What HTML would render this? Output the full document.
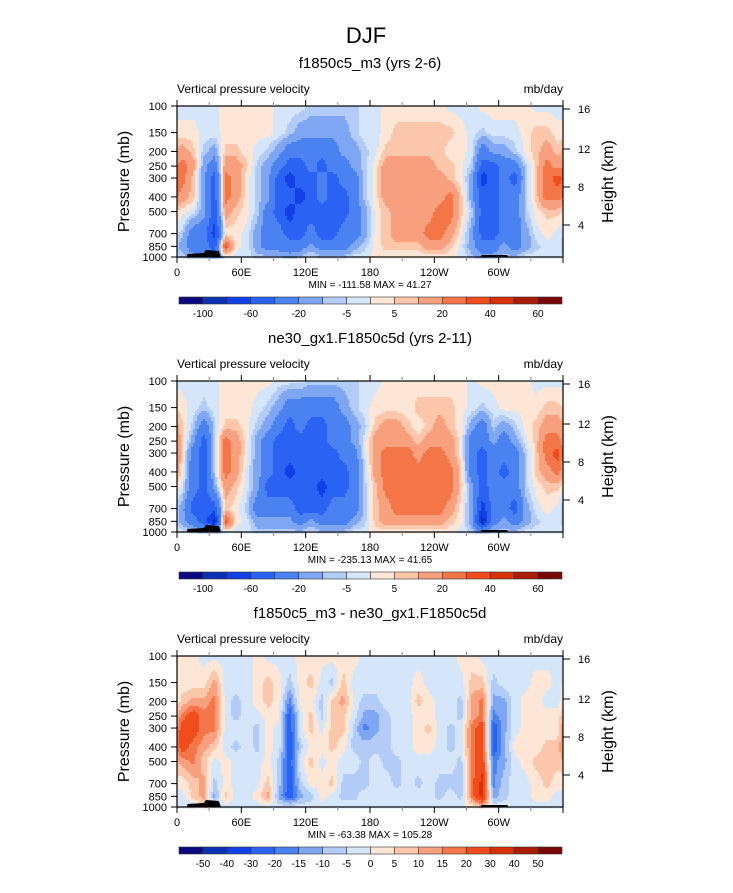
<!DOCTYPE html>
<html><head><meta charset="utf-8">
<style>
html,body{margin:0;padding:0;background:#fff;}
svg text{font-family:"Liberation Sans",Helvetica,Arial,sans-serif;fill:#000;}
</style></head>
<body>
<svg id="fig" width="733" height="888" viewBox="0 0 733 888" xmlns="http://www.w3.org/2000/svg">
<text x="366" y="43" font-size="22" text-anchor="middle">DJF</text>
</svg>
<script>
// ---- data ----
const pressureLevels = [100,150,200,250,300,400,500,700,850,1000];
const lonCenters = [5,15,25,35,45,55,65,75,85,95,105,115,125,135,145,155,165,175,185,195,205,215,225,235,245,255,265,275,285,295,305,315,325,335,345,355];
const lonTickLabels = ["0","60E","120E","180","120W","60W"];
const lonTickValues = [0,60,120,180,240,300];
const pTickLabels = ["100","150","200","250","300","400","500","700","850","1000"];
const hTickLabels = ["4","8","12","16"];
const levelsFull = [-100,-80,-60,-40,-20,-10,-5,0,5,10,20,30,40,50,60];
const levelsFullLabels = ["-100","-60","-20","-5","5","20","40","60"];
const levelsDiff = [-50,-40,-30,-20,-15,-10,-5,0,5,10,15,20,30,40,50];
const levelsDiffLabels = ["-50","-40","-30","-20","-15","-10","-5","0","5","10","15","20","30","40","50"];
const palette = ["#0a0a7e","#0c2fb4","#1040e6","#2a62f4","#4a82f2","#7ea6f2","#b3cbf7","#d5e6fb","#fde6d6","#fcc6aa","#f8a07e","#f47548","#f04c1c","#d83008","#aa1c06","#780806"];

const omega1 = [
[-2,-2,-2,-2,2,2,2,2,2,-2,-2,-2,-7,-7,-7,-7,-7,-2,-2,2,2,2,2,2,2,-2,-2,-2,2,2,2,2,2,-2,-2,-2],
[2,2,-2,-2,2,2,2,2,2,-2,-7,-15,-15,-15,-15,-15,-7,-2,-2,2,7,7,7,7,7,7,2,-2,-7,-2,-2,-2,2,7,7,2],
[15,7,-7,-15,7,7,2,-2,-7,-15,-30,-30,-30,-30,-30,-15,-15,-7,-2,7,7,7,7,7,7,2,2,-2,-30,-15,-15,-7,2,7,15,7],
[25,15,-15,-30,15,15,7,-7,-15,-30,-50,-50,-30,-50,-30,-30,-15,-7,2,15,15,15,15,15,7,7,2,-7,-50,-50,-30,-30,-7,7,25,15],
[25,7,-15,-50,25,15,2,-7,-15,-50,-70,-50,-50,-30,-50,-30,-30,-7,2,15,15,15,15,15,15,7,2,-15,-70,-50,-30,-50,-7,7,25,35],
[15,7,-15,-50,25,15,2,-7,-15,-50,-50,-70,-50,-30,-50,-50,-30,-7,2,15,15,15,15,15,15,25,7,-15,-50,-50,-30,-30,-7,7,25,25],
[2,-2,-15,-50,15,7,2,-7,-30,-50,-70,-50,-50,-50,-50,-50,-30,-15,2,7,15,15,15,15,25,25,7,-7,-50,-50,-30,-30,-7,2,7,7],
[-7,-30,-30,-70,2,2,-2,-15,-30,-30,-50,-50,-30,-50,-50,-30,-30,-15,2,7,15,15,15,25,25,15,2,-15,-50,-50,-30,-30,-15,-2,2,-2],
[-15,-30,-30,-50,35,2,-2,-15,-30,-30,-30,-30,-15,-30,-30,-30,-15,-7,2,7,7,7,7,15,15,7,-2,-15,-30,-30,-15,-30,-15,-7,-2,-2],
[-7,-15,-15,-30,-2,-2,-2,-7,-7,-7,-15,-7,-2,-7,-7,-7,-2,-2,2,2,2,2,2,2,2,2,-2,-7,-15,-15,-7,-7,-2,-2,-2,-2]];

const omega2 = [
[-2,-2,-2,-2,2,2,2,2,2,-2,-2,-2,-7,-7,-7,-7,-7,-2,-2,2,2,2,2,2,2,2,2,-2,2,2,2,2,2,-2,-2,-2],
[2,-2,-7,-2,2,2,2,-2,-7,-15,-30,-30,-30,-30,-30,-15,-7,-2,2,2,2,2,7,7,7,7,2,-2,-7,-2,2,2,2,2,7,7],
[7,-7,-30,-7,7,7,2,-7,-15,-30,-50,-30,-50,-50,-30,-30,-15,-7,7,15,15,7,2,7,15,7,2,-15,-30,-7,-15,-7,2,7,15,15],
[7,-15,-50,-7,25,15,2,-15,-30,-50,-50,-50,-50,-50,-30,-30,-15,-2,15,15,15,15,7,15,15,15,2,-30,-30,-15,-30,-15,-2,7,25,25],
[7,-30,-50,-7,25,15,2,-15,-30,-50,-50,-50,-50,-50,-50,-30,-30,-2,15,25,25,25,15,25,25,15,2,-30,-50,-30,-30,-30,-7,7,25,35],
[2,-30,-50,-7,25,15,-2,-15,-30,-50,-70,-50,-50,-50,-50,-50,-30,-7,15,25,25,25,25,25,25,25,7,-30,-50,-30,-50,-30,-7,7,15,25],
[-2,-30,-50,-15,15,7,-2,-15,-50,-50,-50,-50,-50,-70,-50,-50,-30,-7,7,25,25,25,25,25,25,25,7,-15,-50,-30,-30,-30,-7,2,7,7],
[-15,-50,-50,-50,7,2,-7,-30,-30,-30,-30,-50,-50,-50,-30,-30,-30,-7,7,15,25,25,25,25,25,15,2,-15,-70,-30,-30,-50,-15,-2,2,-2],
[-15,-30,-50,-90,35,2,-2,-15,-15,-15,-15,-30,-15,-30,-30,-30,-15,-7,7,15,15,15,15,15,15,7,2,-15,-90,-30,-15,-30,-15,-7,-2,-2],
[-2,-7,-15,-15,-2,-2,-2,-7,-7,-7,-7,-7,-2,-7,-7,-7,-2,-2,2,2,2,2,2,2,2,2,-2,-7,-15,-7,-7,-7,-2,-2,-2,-2]];

const omegaDiff = [
[2,2,-2,-2,-2,-2,-2,2,-2,-2,-2,2,2,2,2,2,2,-2,-2,-2,-2,-2,-2,-2,-2,-2,2,2,-2,-2,-2,-2,-2,-2,-2,-2],
[2,2,2,12,-2,-2,-2,2,7,2,-7,2,7,-2,-7,7,-2,-2,-2,-2,-2,-2,2,-2,-2,-2,-2,7,7,-7,-2,-2,-2,2,2,-2],
[7,12,12,17,-2,-7,-2,2,7,2,-17,2,2,-7,7,12,-2,-7,-7,-2,-2,-2,7,2,-2,-2,-7,12,17,-12,-12,-2,2,2,-2,-2],
[17,25,17,17,-2,-7,-2,-2,2,2,-25,-2,7,-7,7,7,-2,-12,-12,-7,-2,-2,2,2,-2,-2,-7,12,17,-17,-12,-2,2,2,2,2],
[25,25,17,17,-2,-2,-2,-7,2,-2,-25,-2,7,-2,7,7,-7,-17,-12,-7,-2,-2,2,7,-2,-7,-2,17,25,-25,-12,-2,2,2,2,2],
[25,17,12,7,-2,-7,-2,-7,2,-2,-25,-7,2,2,7,2,-7,-7,-7,-7,-2,-2,2,2,-2,-7,-2,17,25,-25,-12,2,2,2,7,7],
[12,17,7,-2,2,-2,-2,-2,2,-7,-25,-2,7,-2,2,-2,-2,-7,-2,-7,-7,-2,-2,-2,-2,-2,-7,17,25,-17,-12,-2,2,7,7,7],
[2,7,12,-7,2,-2,-2,-2,7,-7,-25,-7,2,2,7,-7,-7,-7,-2,-2,-7,-2,-7,-2,-7,-7,-7,17,35,-17,-7,-2,-2,2,7,2],
[-2,7,12,-12,7,-2,-2,2,12,-12,-25,-12,-7,2,-2,-7,-7,-2,-2,-2,-2,-2,-2,-2,-7,-2,-7,17,35,-12,-7,-2,-2,2,2,-2],
[-2,-7,7,-2,-2,-2,-2,-2,-2,-2,-2,-2,-2,-2,-2,-2,-2,-2,-2,-2,-2,-2,-2,-2,-2,-2,-2,2,7,-2,-2,-2,-2,-2,-2,-2]];

const stats1 = ["-111.58","41.27"], stats2 = ["-235.13","41.65"], stats3 = ["-63.38","105.28"];

// ---- drawing ----
const NS="http://www.w3.org/2000/svg";
const svg=document.getElementById('fig');
function mk(tag,attrs,parent){const e=document.createElementNS(NS,tag);for(const k in attrs)e.setAttribute(k,attrs[k]);(parent||svg).appendChild(e);return e;}
const X0=177,X1=563;
function xScale(lon){return X0+lon/360*(X1-X0);}
function classify(v,levels){let c=0;while(c<levels.length&&v>=levels[c])c++;return c;}
function sample(grid,lon,logp){
  let lf=(lon-5)/10; let i0=Math.floor(lf), t=lf-i0;
  const n=lonCenters.length;
  let ia=((i0%n)+n)%n, ib=(ia+1)%n;
  const lp=pressureLevels.map(Math.log10);
  let j=0; while(j<lp.length-2&&logp>lp[j+1])j++;
  let s=(logp-lp[j])/(lp[j+1]-lp[j]); s=Math.max(0,Math.min(1,s));
  const a=grid[j][ia]*(1-t)+grid[j][ib]*t;
  const b=grid[j+1][ia]*(1-t)+grid[j+1][ib]*t;
  return a*(1-s)+b*s;
}

function panel(top,title,grid,levels,levelLabels,labelEvery,stats,key){
  const H=151, bottom=top+H;
  const yP=p=>top+(Math.log10(p)-2)*H;
  const g=mk('g',{});
  
  
  const t=mk('text',{x:370,y:top-38,'font-size':15,'text-anchor':'middle'},g);t.textContent=title;
  
  const l=mk('text',{x:X0,y:top-13,'font-size':12},g);l.textContent="Vertical pressure velocity";
  
  const u=mk('text',{x:X1,y:top-13,'font-size':12,'text-anchor':'end'},g);u.textContent="mb/day";
  
  const field=mk('g',{},g);
  
  const dx=2, dy=2;
  for(let y=top;y<bottom;y+=dy){
    const logp=2+((y+dy/2)-top)/H;
    let runStart=X0, runC=-1;
    for(let x=X0;x<=X1;x+=dx){
      let c=-1;
      if(x<X1){const lon=(x+dx/2-X0)/(X1-X0)*360;c=classify(sample(grid,lon,logp),levels);}
      if(c!==runC){
        if(runC>=0){const r=mk('rect',{x:runStart,y:y,width:x-runStart+0.5,height:dy+0.5,fill:palette[runC]},field);
          }
        runStart=x;runC=c;
      }
    }
  }
  const topo=mk('path',{d:`M${xScale(9)},${bottom} L${xScale(10)},${bottom-3} L${xScale(25)},${bottom-4} L${xScale(27)},${bottom-7} L${xScale(39)},${bottom-6} L${xScale(41)},${bottom} Z M${xScale(283)},${bottom} L${xScale(284)},${bottom-2} L${xScale(308)},${bottom-2} L${xScale(309)},${bottom} Z`,fill:'#000'},g);
  
  const fr=mk('rect',{x:X0,y:top,width:X1-X0,height:H,fill:'none',stroke:'#000','stroke-width':1.2},g);
  
  pressureLevels.forEach((p,i)=>{
    const y=yP(p);
    mk('line',{x1:X0-6,x2:X0,y1:y,y2:y,stroke:'#000'},g);
    const tx=mk('text',{x:X0-10,y:y+4,'font-size':11,'text-anchor':'end'},g);tx.textContent=pTickLabels[i];
    
  });
  const yl=mk('text',{x:0,y:0,'font-size':16,'text-anchor':'middle',transform:`translate(129,${top+H/2}) rotate(-90)`},g);yl.textContent="Pressure (mb)";
  
  const hOff=[119,81,43,3];
  hTickLabels.forEach((h,i)=>{
    const y=top+hOff[i];
    mk('line',{x1:X1,x2:X1+7,y1:y,y2:y,stroke:'#000'},g);
    const tx=mk('text',{x:X1+15,y:y+4,'font-size':11},g);tx.textContent=h;
    
  });
  const hl=mk('text',{x:0,y:0,'font-size':16,'text-anchor':'middle',transform:`translate(613,${top+H/2}) rotate(-90)`},g);hl.textContent="Height (km)";
  
  for(let lon=0;lon<=360;lon+=30){
    const x=xScale(lon), major=lon%60===0;
    mk('line',{x1:x,x2:x,y1:bottom,y2:bottom+(major?6:4),stroke:major?'#000':'#888'},g);
    mk('line',{x1:x,x2:x,y1:top-(major?6:4),y2:top,stroke:major?'#000':'#888'},g);
  }
  lonTickValues.forEach((v,i)=>{
    const tx=mk('text',{x:xScale(v),y:bottom+19,'font-size':11,'text-anchor':'middle'},g);tx.textContent=lonTickLabels[i];
    
  });
  const st=mk('text',{x:370,y:bottom+31,'font-size':10,'text-anchor':'middle'},g);
  st.textContent=`MIN = ${stats[0]}  MAX = ${stats[1]}`;st.setAttribute('xml:space','preserve');
  
  const cb=mk('g',{},g);
  
  const cy=bottom+40, cx0=179, cw=(562-179)/16;
  palette.forEach((c,i)=>{
    const r=mk('rect',{x:cx0+i*cw,y:cy,width:cw,height:7,fill:c,stroke:'#333','stroke-width':0.6},cb);
    
  });
  levelLabels.forEach((lab,i)=>{
    const b=1+i*labelEvery;
    const tx=mk('text',{x:cx0+b*cw,y:cy+20,'font-size':10,'text-anchor':'middle'},cb);tx.textContent=lab;
    
  });
}
panel(106,"f1850c5_m3 (yrs 2-6)",omega1,levelsFull,levelsFullLabels,2,stats1,'control');
panel(381,"ne30_gx1.F1850c5d (yrs 2-11)",omega2,levelsFull,levelsFullLabels,2,stats2,'reference');
panel(656,"f1850c5_m3 - ne30_gx1.F1850c5d",omegaDiff,levelsDiff,levelsDiffLabels,1,stats3,'difference');
</script>
</body></html>
